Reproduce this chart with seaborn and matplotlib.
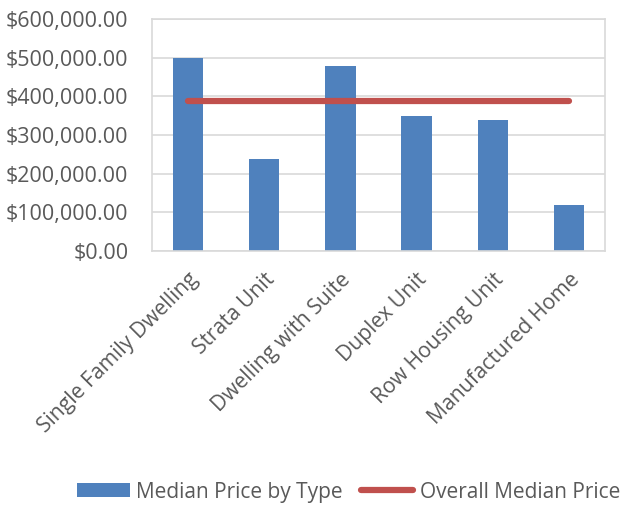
import matplotlib
matplotlib.use("Agg")
import matplotlib.pyplot as plt
import matplotlib.ticker as mticker
from matplotlib.patches import Patch
from matplotlib.lines import Line2D
import pandas as pd
import seaborn as sns

# Chart data
categories = [
    "Single Family Dwelling",
    "Strata Unit",
    "Dwelling with Suite",
    "Duplex Unit",
    "Row Housing Unit",
    "Manufactured Home",
]
median_by_type = [500000, 238000, 479000, 349000, 340000, 120000]
overall_median = [388500, 388500, 388500, 388500, 388500, 388500]
y_ticks = [0, 100000, 200000, 300000, 400000, 500000, 600000]
legend_labels = ["Median Price by Type", "Overall Median Price"]

BAR_COLOR = "#4F81BD"
LINE_COLOR = "#C0504D"
GRID_COLOR = "#D9D9D9"
TEXT_COLOR = "#595959"

sns.set_style("white")
plt.rcParams["font.family"] = ["Open Sans", "DejaVu Sans"]

df = pd.DataFrame({
    "type": categories,
    "median": median_by_type,
    "overall": overall_median,
})

fig = plt.figure(figsize=(6.24, 5.05), dpi=100)
ax = fig.add_axes([0.2436, 0.503, 0.7260, 0.4594])

sns.barplot(data=df, x="type", y="median", color=BAR_COLOR, width=0.4,
            saturation=1, linewidth=0, ax=ax, zorder=2)
ax.plot(df["type"], df["overall"], color=LINE_COLOR, linewidth=4.5,
        solid_capstyle="round", zorder=3)

ax.set_ylim(0, 600000)
ax.set_yticks(y_ticks)
ax.yaxis.set_major_formatter(mticker.FuncFormatter(lambda v, p: f"${v:,.2f}"))
ax.grid(axis="y", color=GRID_COLOR, linewidth=1.2, zorder=0)
ax.set_axisbelow(True)
for side in ["top", "right", "left", "bottom"]:
    ax.spines[side].set_color(GRID_COLOR)
    ax.spines[side].set_linewidth(1.2)

ax.set_xlabel("")
ax.set_ylabel("")
ax.tick_params(axis="both", length=0, colors=TEXT_COLOR)
ax.tick_params(axis="y", pad=17, labelsize=15.5)
ax.tick_params(axis="x", pad=13, labelsize=15.2)
plt.setp(ax.get_xticklabels(), rotation=45, ha="right", rotation_mode="anchor")

handles = [
    Patch(facecolor=BAR_COLOR, edgecolor="none"),
    Line2D([0], [0], color=LINE_COLOR, linewidth=4.5, solid_capstyle="round"),
]
fig.legend(handles, legend_labels, loc="center", bbox_to_anchor=(0.5593, 0.0257),
           ncol=2, frameon=False, fontsize=15, handlelength=2.5, handleheight=0.63,
           handletextpad=0.33, columnspacing=0.87, labelcolor=TEXT_COLOR)

fig.savefig("out.png", dpi=100)
